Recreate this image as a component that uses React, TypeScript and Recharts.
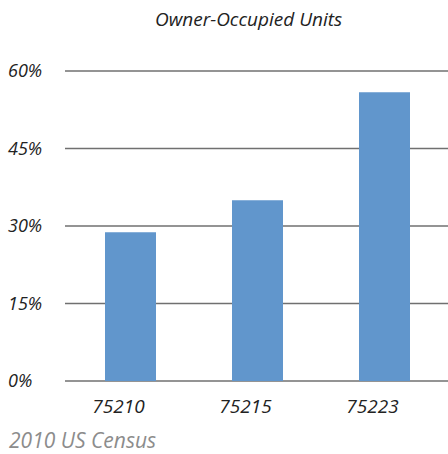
import React from 'react';
import { BarChart, Bar, XAxis, YAxis, CartesianGrid } from 'recharts';

const zipCodes = ['75210', '75215', '75223'];
const ownerShare = [28.8, 35.0, 55.9];
const yTicks = [0, 15, 30, 45, 60];

const data = zipCodes.map((zip, i) => ({ zip, share: ownerShare[i] }));

const FONT = '"Open Sans", sans-serif';

const YTick = ({ y, payload }: any) => (
  <text x={8} y={y + 6} textAnchor="start" fontFamily={FONT} fontStyle="italic" fontSize={18} fill="#222">
    {payload.value}%
  </text>
);

const XTick = ({ x, y, payload }: any) => (
  <text x={x - 12} y={y + 24} textAnchor="middle" fontFamily={FONT} fontStyle="italic" fontSize={19} fill="#222">
    {payload.value}
  </text>
);

const App: React.FC = () => {
  return (
    <div style={{ position: 'absolute', left: 0, top: 0, width: 448, height: 454, background: '#fff', overflow: 'hidden' }}>
      <div
        style={{
          position: 'absolute', top: 6, left: 155, whiteSpace: 'nowrap',
          fontFamily: FONT, fontStyle: 'italic', fontSize: 19, color: '#222',
        }}
      >
        Owner-Occupied Units
      </div>
      <BarChart width={448} height={454} data={data} margin={{ top: 71, right: 0, left: 0, bottom: 33 }}>
        <CartesianGrid vertical={false} stroke="#707070" strokeWidth={1.5} />
        <XAxis
          dataKey="zip"
          axisLine={false}
          tickLine={false}
          height={40}
          tick={<XTick />}
          interval={0}
          padding={{ left: 2, right: 0 }}
        />
        <YAxis
          domain={[0, 60]}
          ticks={yTicks}
          width={65}
          axisLine={false}
          tickLine={false}
          tick={<YTick />}
        />
        <Bar dataKey="share" fill="#6196cc" barSize={51} isAnimationActive={false} />
      </BarChart>
      <div
        style={{
          position: 'absolute', top: 426, left: 9, whiteSpace: 'nowrap',
          fontFamily: FONT, fontStyle: 'italic', fontSize: 21, color: '#8c8c8c',
        }}
      >
        2010 US Census
      </div>
    </div>
  );
};

export default App;
